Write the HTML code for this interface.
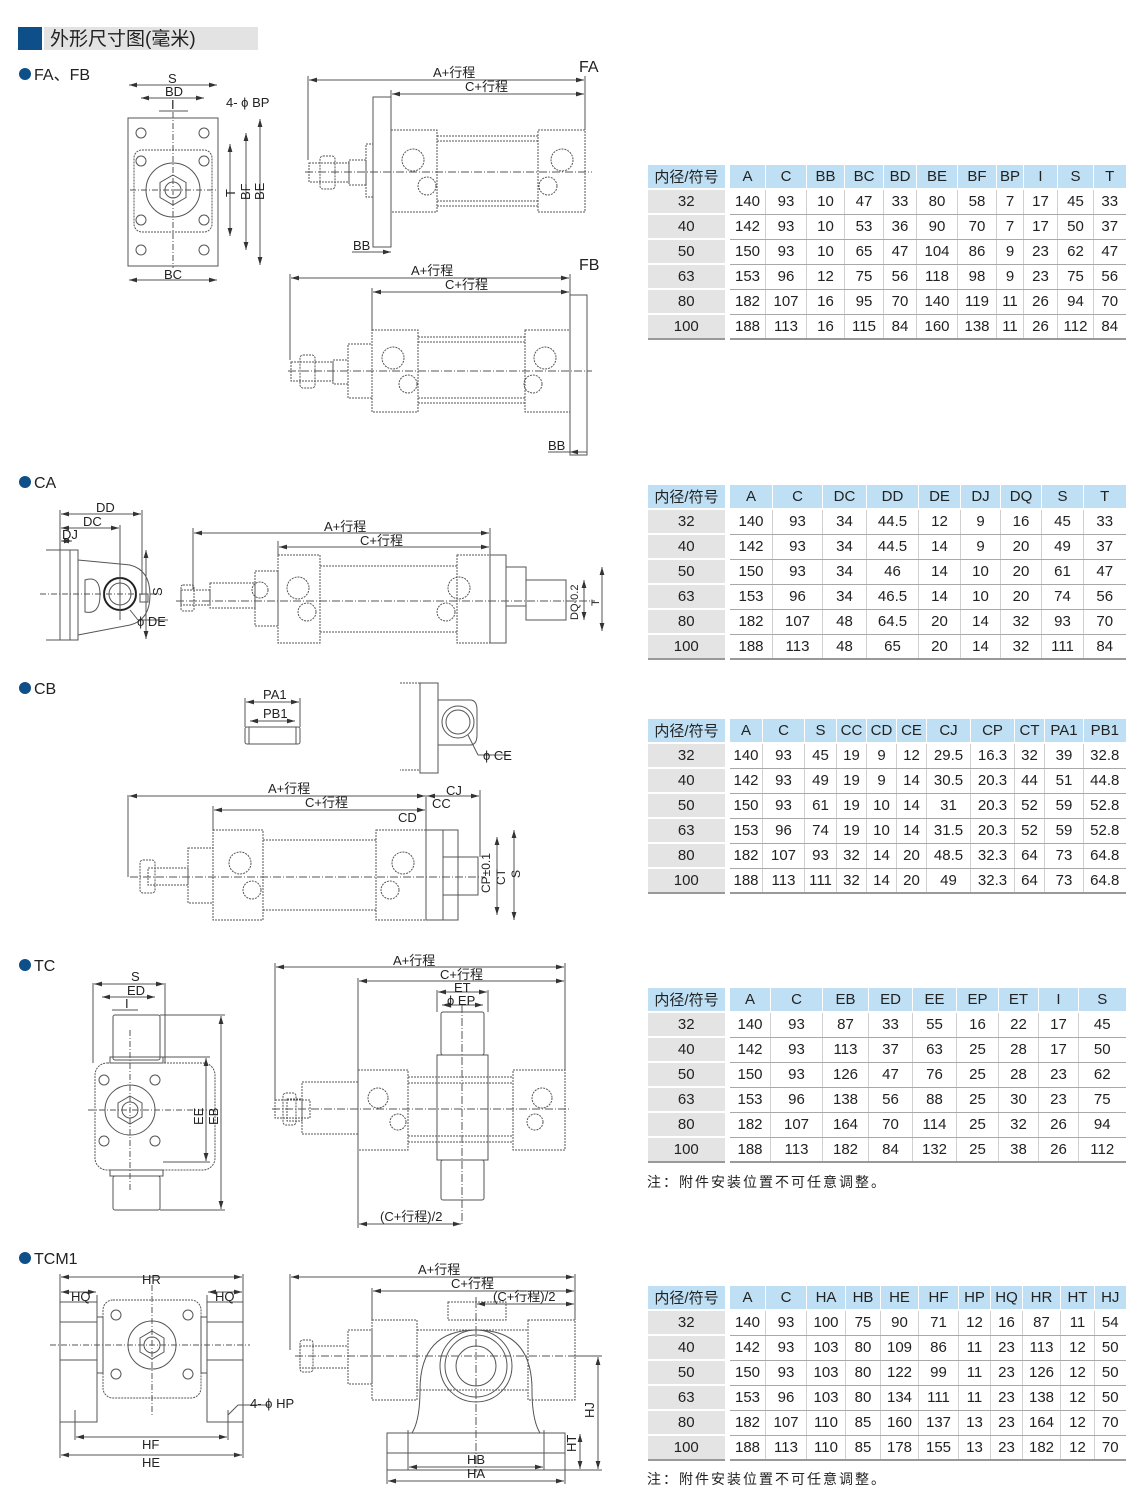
<!DOCTYPE html>
<html><head><meta charset="utf-8">
<style>
body{margin:0;background:#fff;width:1140px;height:1504px;position:relative;overflow:hidden;font-family:"Liberation Sans","Noto Sans CJK SC",sans-serif;color:#222}
.t{position:absolute;border-collapse:collapse;font-size:15px;table-layout:fixed}
.t td{height:23px;padding:0;text-align:center;border-bottom:1px solid #a8a8a8;border-left:1px solid #d0d0d0}
.t tr:first-child td{background:#bfe0f4;border-bottom:2px solid #fff;border-left:1px solid #fff}
.t td:first-child{background:#e4e4e4;border-left:none;border-right:5px solid #fff;border-bottom:2px solid #fff}
.t tr:first-child td:first-child{background:#bfe0f4}
.t tr:last-child td{border-bottom:2px solid #999}
.t tr:last-child td:first-child{border-bottom:2px solid #999}
.note{position:absolute;left:647px;font-size:14px;letter-spacing:2px}
svg{position:absolute;left:0;top:0}
</style></head><body>
<svg width="1140" height="1504" font-family="Liberation Sans, Noto Sans CJK SC, sans-serif" font-size="13" fill="none" stroke="#555" stroke-width="1">
<defs>
<marker id="a" viewBox="0 0 10 6" refX="10" refY="3" markerWidth="8" markerHeight="5" orient="auto-start-reverse"><path d="M0,0L10,3L0,6z" fill="#333" stroke="none"/></marker>
</defs>
<rect x="18" y="27" width="24" height="23" fill="#0e4f8a" stroke="none"/>
<rect x="44" y="27" width="214" height="23" fill="#e3e3e3" stroke="none"/>
<text x="50" y="45" font-size="19" fill="#222" stroke="none">外形尺寸图(毫米)</text>
<g fill="#0e4f8a" stroke="none"><circle cx="25" cy="74" r="6"/><circle cx="25" cy="482" r="6"/><circle cx="25" cy="688" r="6"/><circle cx="25" cy="965" r="6"/><circle cx="25" cy="1258" r="6"/></g>
<g font-size="16" fill="#222" stroke="none"><text x="34" y="80">FA、FB</text><text x="34" y="488">CA</text><text x="34" y="694">CB</text><text x="34" y="971">TC</text><text x="34" y="1264">TCM1</text><text x="579" y="72">FA</text><text x="579" y="270">FB</text></g>

<!-- FA front -->
<rect x="128" y="118" width="90" height="148"/>
<rect x="134" y="150" width="78" height="82" rx="8" stroke-dasharray="2 1"/>
<g><circle cx="141" cy="133" r="5"/><circle cx="204" cy="133" r="5"/><circle cx="141" cy="161" r="5"/><circle cx="204" cy="161" r="5"/><circle cx="141" cy="220" r="5"/><circle cx="204" cy="220" r="5"/><circle cx="141" cy="250" r="5"/><circle cx="204" cy="250" r="5"/></g>
<circle cx="173" cy="190" r="27"/><path d="M173,175l13,7.5v15l-13,7.5l-13,-7.5v-15z"/><circle cx="173" cy="190" r="8"/>
<line x1="173" y1="112" x2="173" y2="268" stroke-dasharray="6 2 1 2"/><line x1="130" y1="190" x2="216" y2="190" stroke-dasharray="6 2 1 2"/>
<g marker-start="url(#a)" marker-end="url(#a)"><line x1="129" y1="85" x2="217" y2="85"/><line x1="141" y1="98" x2="204" y2="98"/><line x1="129" y1="280" x2="217" y2="280"/><line x1="230" y1="144" x2="230" y2="236"/><line x1="246" y1="133" x2="246" y2="250"/><line x1="260" y1="119" x2="260" y2="265"/></g>
<line x1="159" y1="111" x2="188" y2="111"/>
<g fill="#222" stroke="none"><text x="168" y="83">S</text><text x="165" y="96">BD</text><text x="171" y="109">I</text><text x="164" y="279">BC</text><text x="226" y="107">4- ϕ BP</text><text transform="translate(235,197) rotate(-90)">T</text><text transform="translate(250,200) rotate(-90)">BF</text><text transform="translate(264,200) rotate(-90)">BE</text></g>

<!-- FA side -->
<g stroke-dasharray="2 1">
<rect x="373" y="97" width="18" height="150" stroke-dasharray="none"/>
<rect x="391" y="130" width="46" height="82"/><rect x="538" y="130" width="47" height="82"/>
<line x1="437" y1="136" x2="538" y2="136"/><line x1="437" y1="141" x2="538" y2="141"/><line x1="437" y1="201" x2="538" y2="201"/><line x1="437" y1="206" x2="538" y2="206"/>
<rect x="366" y="144" width="7" height="53"/><rect x="349" y="160" width="17" height="25"/><rect x="309" y="163" width="40" height="19"/><rect x="320" y="156" width="15" height="33" rx="3"/>
<circle cx="413" cy="160" r="11"/><circle cx="427" cy="186" r="9"/><circle cx="562" cy="160" r="11"/><circle cx="548" cy="186" r="9"/>
</g>
<line x1="305" y1="172" x2="592" y2="172" stroke-dasharray="8 2 1 2"/>
<line x1="308" y1="76" x2="308" y2="160"/><line x1="585" y1="76" x2="585" y2="130"/><line x1="391" y1="90" x2="391" y2="97"/>
<g marker-start="url(#a)" marker-end="url(#a)"><line x1="309" y1="80" x2="584" y2="80"/><line x1="392" y1="94" x2="584" y2="94"/></g>
<line x1="352" y1="252" x2="391" y2="252" marker-end="url(#a)"/>
<g fill="#222" stroke="none"><text x="433" y="77">A+行程</text><text x="465" y="91">C+行程</text><text x="353" y="250">BB</text></g>

<!-- FB side -->
<g stroke-dasharray="2 1">
<rect x="570" y="295" width="17" height="160" stroke-dasharray="none"/>
<rect x="372" y="330" width="46" height="82"/><rect x="525" y="330" width="45" height="82"/>
<line x1="418" y1="337" x2="525" y2="337"/><line x1="418" y1="342" x2="525" y2="342"/><line x1="418" y1="398" x2="525" y2="398"/><line x1="418" y1="403" x2="525" y2="403"/>
<rect x="348" y="344" width="24" height="54"/><rect x="333" y="360" width="15" height="24"/><rect x="291" y="362" width="42" height="19"/><rect x="300" y="355" width="15" height="33" rx="3"/>
<circle cx="393" cy="358" r="11"/><circle cx="408" cy="384" r="9"/><circle cx="545" cy="358" r="11"/><circle cx="533" cy="384" r="9"/>
</g>
<line x1="288" y1="371" x2="592" y2="371" stroke-dasharray="8 2 1 2"/>
<line x1="290" y1="274" x2="290" y2="360"/><line x1="372" y1="288" x2="372" y2="330"/><line x1="570" y1="274" x2="570" y2="295"/>
<g marker-start="url(#a)" marker-end="url(#a)"><line x1="291" y1="278" x2="569" y2="278"/><line x1="373" y1="292" x2="569" y2="292"/></g>
<line x1="548" y1="452" x2="587" y2="452"/><line x1="572" y1="452" x2="570" y2="452" marker-end="url(#a)"/>
<g fill="#222" stroke="none"><text x="411" y="275">A+行程</text><text x="445" y="289">C+行程</text><text x="548" y="450">BB</text></g>

<!-- CA front -->
<path d="M46,550H70V640H46" /><rect x="60" y="550" width="18" height="90"/>
<path d="M78,560L130,565Q150,570 150,595Q150,620 130,625L78,635"/>
<path d="M85,580Q100,575 100,595Q100,615 85,612z"/>
<circle cx="120" cy="594" r="16" stroke="#222" stroke-width="2"/><circle cx="120" cy="594" r="11"/>
<line x1="40" y1="594" x2="160" y2="594" stroke-dasharray="6 2 1 2"/><line x1="120" y1="525" x2="120" y2="620"/>
<line x1="60" y1="510" x2="60" y2="550"/><line x1="142" y1="510" x2="142" y2="595"/>
<g marker-start="url(#a)" marker-end="url(#a)"><line x1="61" y1="514" x2="141" y2="514"/><line x1="61" y1="528" x2="119" y2="528"/><line x1="61" y1="541" x2="72" y2="541"/><line x1="146" y1="550" x2="146" y2="639"/></g>
<line x1="130" y1="610" x2="138" y2="620"/><line x1="138" y1="620" x2="168" y2="620"/>
<rect x="140" y="594" width="8" height="8"/>
<g fill="#222" stroke="none"><text x="96" y="512">DD</text><text x="83" y="526">DC</text><text x="62" y="539">DJ</text><text x="137" y="626">ϕ DE</text><text transform="translate(162,596) rotate(-90)">S</text></g>

<!-- CA side -->
<g stroke-dasharray="2 1">
<rect x="278" y="555" width="42" height="88"/><rect x="457" y="555" width="33" height="88"/>
<line x1="320" y1="566" x2="457" y2="566"/><line x1="320" y1="632" x2="457" y2="632"/>
<rect x="255" y="571" width="23" height="55"/><rect x="210" y="583" width="45" height="25"/><rect x="181" y="590" width="29" height="15"/><rect x="181" y="585" width="13" height="26" rx="2"/>
<circle cx="260" cy="590" r="8"/><circle cx="298" cy="588" r="11"/><circle cx="307" cy="612" r="9"/><circle cx="459" cy="588" r="11"/><circle cx="446" cy="612" r="9"/>
</g>
<rect x="490" y="555" width="16" height="88"/><path d="M506,567H526V606H506"/><rect x="526" y="580" width="40" height="40"/>
<line x1="176" y1="601" x2="595" y2="601" stroke-dasharray="8 2 1 2"/>
<line x1="193" y1="528" x2="193" y2="590"/><line x1="490" y1="528" x2="490" y2="555"/><line x1="278" y1="541" x2="278" y2="555"/>
<g marker-start="url(#a)" marker-end="url(#a)"><line x1="194" y1="533" x2="489" y2="533"/><line x1="279" y1="547" x2="489" y2="547"/><line x1="602" y1="567" x2="602" y2="631"/><line x1="584" y1="580" x2="584" y2="620"/></g>
<g fill="#222" stroke="none"><text x="324" y="531">A+行程</text><text x="360" y="545">C+行程</text><text transform="translate(599,606) rotate(-90)" font-size="11">T</text><text transform="translate(578,620) rotate(-90)" font-size="11">DQ-0.2</text></g>

<!-- CB -->
<rect x="245" y="727" width="55" height="17" rx="2"/><line x1="249" y1="727" x2="249" y2="744"/><line x1="296" y1="727" x2="296" y2="744"/>
<line x1="245" y1="698" x2="245" y2="727"/><line x1="300" y1="698" x2="300" y2="727"/>
<g marker-start="url(#a)" marker-end="url(#a)"><line x1="246" y1="702" x2="299" y2="702"/><line x1="250" y1="721" x2="295" y2="721"/></g>
<path d="M400,683H420V770H400" stroke-dasharray="2 1"/><rect x="420" y="683" width="18" height="90"/><path d="M438,700H470Q477,700 477,710V735Q477,745 470,745H438"/>
<circle cx="458" cy="722" r="16"/><circle cx="458" cy="722" r="12"/>
<line x1="468" y1="735" x2="478" y2="755"/><line x1="478" y1="755" x2="510" y2="755"/>
<g fill="#222" stroke="none"><text x="263" y="699">PA1</text><text x="263" y="718">PB1</text><text x="483" y="760">ϕ CE</text></g>
<g stroke-dasharray="2 1">
<rect x="213" y="830" width="50" height="90"/><rect x="376" y="830" width="50" height="90"/>
<line x1="263" y1="840" x2="376" y2="840"/><line x1="263" y1="910" x2="376" y2="910"/>
<rect x="188" y="848" width="25" height="55"/><rect x="148" y="868" width="40" height="17"/><rect x="140" y="860" width="15" height="33" rx="3"/>
<circle cx="240" cy="863" r="11"/><circle cx="252" cy="890" r="9"/><circle cx="403" cy="863" r="11"/><circle cx="390" cy="890" r="9"/>
</g>
<rect x="426" y="830" width="17" height="90"/><path d="M443,830H458V920H443"/><rect x="443" y="857" width="35" height="38"/>
<line x1="130" y1="877" x2="485" y2="877" stroke-dasharray="8 2 1 2"/>
<line x1="128" y1="795" x2="128" y2="877"/><line x1="426" y1="795" x2="426" y2="830"/><line x1="213" y1="806" x2="213" y2="830"/><line x1="480" y1="790" x2="480" y2="857"/>
<g marker-start="url(#a)" marker-end="url(#a)"><line x1="129" y1="796" x2="425" y2="796"/><line x1="214" y1="810" x2="425" y2="810"/><line x1="427" y1="796" x2="479" y2="796"/><line x1="514" y1="830" x2="514" y2="920"/><line x1="497" y1="837" x2="497" y2="915"/></g>
<g fill="#222" stroke="none"><text x="268" y="793">A+行程</text><text x="305" y="807">C+行程</text><text x="446" y="795">CJ</text><text x="432" y="808">CC</text><text x="398" y="822">CD</text><text transform="translate(490,893) rotate(-90)" font-size="12">CP±0.1</text><text transform="translate(505,885) rotate(-90)" font-size="12">CT</text><text transform="translate(520,878) rotate(-90)" font-size="12">S</text></g>

<!-- TC front -->
<rect x="113" y="1015" width="47" height="45" rx="2"/><rect x="110" y="1057" width="53" height="6"/>
<rect x="95" y="1063" width="120" height="107" rx="12" stroke-dasharray="2 1"/>
<g><circle cx="104" cy="1080" r="5"/><circle cx="155" cy="1080" r="5"/><circle cx="104" cy="1141" r="5"/><circle cx="155" cy="1141" r="5"/></g>
<circle cx="130" cy="1110" r="25"/><path d="M130,1096l12,7v14l-12,7l-12,-7v-14z"/><circle cx="130" cy="1110" r="8"/>
<rect x="110" y="1170" width="53" height="6"/><rect x="113" y="1176" width="47" height="34" rx="2"/>
<line x1="88" y1="1110" x2="220" y2="1110" stroke-dasharray="6 2 1 2"/><line x1="130" y1="1030" x2="130" y2="1190" stroke-dasharray="6 2 1 2"/>
<line x1="93" y1="983" x2="93" y2="1063"/><line x1="165" y1="983" x2="165" y2="1063"/><line x1="160" y1="1015" x2="225" y2="1015"/><line x1="160" y1="1210" x2="225" y2="1210"/><line x1="163" y1="1057" x2="210" y2="1057"/><line x1="163" y1="1162" x2="210" y2="1162"/>
<g marker-start="url(#a)" marker-end="url(#a)"><line x1="94" y1="984" x2="164" y2="984"/><line x1="102" y1="997" x2="155" y2="997"/><line x1="206" y1="1058" x2="206" y2="1161"/><line x1="221" y1="1016" x2="221" y2="1209"/></g>
<line x1="112" y1="1010" x2="138" y2="1010"/>
<g fill="#222" stroke="none"><text x="131" y="981">S</text><text x="127" y="995">ED</text><text x="125" y="1008">I</text><text transform="translate(203,1125) rotate(-90)">EE</text><text transform="translate(218,1125) rotate(-90)">EB</text></g>

<!-- TC side -->
<g stroke-dasharray="2 1">
<rect x="358" y="1070" width="50" height="80"/><rect x="513" y="1070" width="52" height="80"/>
<line x1="408" y1="1077" x2="513" y2="1077"/><line x1="408" y1="1083" x2="513" y2="1083"/><line x1="408" y1="1136" x2="513" y2="1136"/><line x1="408" y1="1142" x2="513" y2="1142"/>
<rect x="302" y="1082" width="56" height="52"/><rect x="287" y="1099" width="15" height="22"/><rect x="275" y="1100" width="35" height="18"/><rect x="283" y="1093" width="13" height="32" rx="3"/>
<circle cx="378" cy="1098" r="10"/><circle cx="398" cy="1122" r="8"/><circle cx="542" cy="1098" r="10"/><circle cx="535" cy="1122" r="8"/>
</g>
<rect x="437" y="1055" width="51" height="105"/><rect x="441" y="1012" width="43" height="43" rx="2"/><rect x="441" y="1160" width="43" height="40" rx="2"/>
<line x1="272" y1="1109" x2="570" y2="1109" stroke-dasharray="8 2 1 2"/><line x1="462" y1="1005" x2="462" y2="1225" stroke-dasharray="8 2 1 2"/>
<line x1="275" y1="963" x2="275" y2="1100"/><line x1="358" y1="978" x2="358" y2="1228"/><line x1="565" y1="963" x2="565" y2="1070"/><line x1="437" y1="990" x2="437" y2="1012"/><line x1="488" y1="990" x2="488" y2="1012"/>
<g marker-start="url(#a)" marker-end="url(#a)"><line x1="276" y1="967" x2="564" y2="967"/><line x1="359" y1="981" x2="564" y2="981"/><line x1="438" y1="992" x2="487" y2="992"/><line x1="442" y1="1005" x2="483" y2="1005"/><line x1="359" y1="1224" x2="461" y2="1224"/></g>
<g fill="#222" stroke="none"><text x="393" y="965">A+行程</text><text x="440" y="979">C+行程</text><text x="454" y="992">ET</text><text x="447" y="1005">ϕ EP</text><text x="380" y="1221">(C+行程)/2</text></g>

<!-- TCM1 front -->
<rect x="60" y="1302" width="37" height="120"/><rect x="207" y="1302" width="36" height="120"/>
<line x1="60" y1="1322" x2="97" y2="1322"/><line x1="60" y1="1360" x2="97" y2="1360"/><line x1="207" y1="1322" x2="243" y2="1322"/><line x1="207" y1="1360" x2="243" y2="1360"/>
<rect x="97" y="1317" width="6" height="56"/><rect x="201" y="1317" width="6" height="56"/>
<rect x="103" y="1300" width="98" height="98" rx="10" stroke-dasharray="2 1"/>
<g><circle cx="116" cy="1315" r="5"/><circle cx="188" cy="1315" r="5"/><circle cx="116" cy="1374" r="5"/><circle cx="188" cy="1374" r="5"/></g>
<circle cx="152" cy="1345" r="24"/><path d="M152,1331l12,7v14l-12,7l-12,-7v-14z"/><circle cx="152" cy="1345" r="8"/>
<line x1="50" y1="1345" x2="250" y2="1345" stroke-dasharray="6 2 1 2"/><line x1="152" y1="1285" x2="152" y2="1415" stroke-dasharray="6 2 1 2"/>
<line x1="60" y1="1274" x2="60" y2="1302"/><line x1="243" y1="1274" x2="243" y2="1302"/><line x1="97" y1="1295" x2="97" y2="1302"/><line x1="207" y1="1295" x2="207" y2="1302"/>
<line x1="75" y1="1410" x2="75" y2="1440"/><line x1="228" y1="1410" x2="228" y2="1440"/>
<g marker-start="url(#a)" marker-end="url(#a)"><line x1="61" y1="1277" x2="242" y2="1277"/><line x1="61" y1="1292" x2="96" y2="1292"/><line x1="208" y1="1292" x2="242" y2="1292"/><line x1="76" y1="1437" x2="227" y2="1437"/><line x1="61" y1="1455" x2="242" y2="1455"/></g>
<line x1="60" y1="1422" x2="60" y2="1458"/><line x1="243" y1="1422" x2="243" y2="1458"/>
<line x1="228" y1="1415" x2="238" y2="1405"/><line x1="238" y1="1405" x2="270" y2="1405"/>
<g fill="#222" stroke="none"><text x="142" y="1284">HR</text><text x="71" y="1301">HQ</text><text x="215" y="1301">HQ</text><text x="142" y="1449">HF</text><text x="142" y="1467">HE</text><text x="250" y="1408">4- ϕ HP</text></g>

<!-- TCM1 side -->
<g stroke-dasharray="2 1">
<rect x="372" y="1320" width="45" height="80"/><rect x="528" y="1320" width="47" height="80"/>
<rect x="448" y="1302" width="58" height="18"/>
<line x1="417" y1="1330" x2="528" y2="1330"/><line x1="417" y1="1390" x2="528" y2="1390"/>
<rect x="348" y="1330" width="24" height="54"/><rect x="300" y="1346" width="48" height="22"/><rect x="300" y="1340" width="13" height="32" rx="3"/>
</g>
<path d="M387,1433H565V1470H387z"/><line x1="387" y1="1453" x2="565" y2="1453"/>
<path d="M412,1433Q420,1420 420,1390Q420,1330 476,1330Q532,1330 532,1390Q532,1420 540,1433"/>
<circle cx="476" cy="1366" r="36"/><circle cx="476" cy="1366" r="31"/><circle cx="476" cy="1366" r="20"/>
<line x1="295" y1="1356" x2="580" y2="1356" stroke-dasharray="8 2 1 2"/><line x1="476" y1="1300" x2="476" y2="1472" stroke-dasharray="8 2 1 2"/>
<line x1="290" y1="1274" x2="290" y2="1350"/><line x1="372" y1="1288" x2="372" y2="1320"/><line x1="575" y1="1274" x2="575" y2="1320"/><line x1="476" y1="1297" x2="476" y2="1302"/>
<line x1="408" y1="1430" x2="408" y2="1470"/><line x1="544" y1="1430" x2="544" y2="1470"/><line x1="387" y1="1470" x2="387" y2="1484"/><line x1="565" y1="1470" x2="565" y2="1484"/>
<line x1="575" y1="1356" x2="602" y2="1356"/><line x1="565" y1="1470" x2="602" y2="1470"/>
<g marker-start="url(#a)" marker-end="url(#a)"><line x1="291" y1="1277" x2="574" y2="1277"/><line x1="373" y1="1291" x2="574" y2="1291"/><line x1="477" y1="1304" x2="574" y2="1304"/><line x1="409" y1="1467" x2="543" y2="1467"/><line x1="388" y1="1481" x2="564" y2="1481"/><line x1="598" y1="1357" x2="598" y2="1469"/><line x1="580" y1="1434" x2="580" y2="1469"/></g>
<g fill="#222" stroke="none"><text x="418" y="1274">A+行程</text><text x="451" y="1288">C+行程</text><text x="493" y="1301">(C+行程)/2</text><text x="467" y="1464">HB</text><text x="467" y="1478">HA</text><text transform="translate(594,1418) rotate(-90)">HJ</text><text transform="translate(576,1452) rotate(-90)">HT</text></g>
</svg>

<table class="t" style="left:647px;top:165px;width:478px">
<colgroup><col style="width:80px"><col style="width:38px"><col style="width:41px"><col style="width:38px"><col style="width:39px"><col style="width:33px"><col style="width:41px"><col style="width:39px"><col style="width:27px"><col style="width:34px"><col style="width:36px"><col style="width:32px"></colgroup>
<tr><td>内径/符号</td><td>A</td><td>C</td><td>BB</td><td>BC</td><td>BD</td><td>BE</td><td>BF</td><td>BP</td><td>I</td><td>S</td><td>T</td></tr>
<tr><td>32</td><td>140</td><td>93</td><td>10</td><td>47</td><td>33</td><td>80</td><td>58</td><td>7</td><td>17</td><td>45</td><td>33</td></tr>
<tr><td>40</td><td>142</td><td>93</td><td>10</td><td>53</td><td>36</td><td>90</td><td>70</td><td>7</td><td>17</td><td>50</td><td>37</td></tr>
<tr><td>50</td><td>150</td><td>93</td><td>10</td><td>65</td><td>47</td><td>104</td><td>86</td><td>9</td><td>23</td><td>62</td><td>47</td></tr>
<tr><td>63</td><td>153</td><td>96</td><td>12</td><td>75</td><td>56</td><td>118</td><td>98</td><td>9</td><td>23</td><td>75</td><td>56</td></tr>
<tr><td>80</td><td>182</td><td>107</td><td>16</td><td>95</td><td>70</td><td>140</td><td>119</td><td>11</td><td>26</td><td>94</td><td>70</td></tr>
<tr><td>100</td><td>188</td><td>113</td><td>16</td><td>115</td><td>84</td><td>160</td><td>138</td><td>11</td><td>26</td><td>112</td><td>84</td></tr>
</table>

<table class="t" style="left:647px;top:485px;width:478px">
<colgroup><col style="width:80px"><col style="width:45px"><col style="width:50px"><col style="width:44px"><col style="width:52px"><col style="width:42px"><col style="width:40px"><col style="width:41px"><col style="width:42px"><col style="width:42px"></colgroup>
<tr><td>内径/符号</td><td>A</td><td>C</td><td>DC</td><td>DD</td><td>DE</td><td>DJ</td><td>DQ</td><td>S</td><td>T</td></tr>
<tr><td>32</td><td>140</td><td>93</td><td>34</td><td>44.5</td><td>12</td><td>9</td><td>16</td><td>45</td><td>33</td></tr>
<tr><td>40</td><td>142</td><td>93</td><td>34</td><td>44.5</td><td>14</td><td>9</td><td>20</td><td>49</td><td>37</td></tr>
<tr><td>50</td><td>150</td><td>93</td><td>34</td><td>46</td><td>14</td><td>10</td><td>20</td><td>61</td><td>47</td></tr>
<tr><td>63</td><td>153</td><td>96</td><td>34</td><td>46.5</td><td>14</td><td>10</td><td>20</td><td>74</td><td>56</td></tr>
<tr><td>80</td><td>182</td><td>107</td><td>48</td><td>64.5</td><td>20</td><td>14</td><td>32</td><td>93</td><td>70</td></tr>
<tr><td>100</td><td>188</td><td>113</td><td>48</td><td>65</td><td>20</td><td>14</td><td>32</td><td>111</td><td>84</td></tr>
</table>

<table class="t" style="left:647px;top:719px;width:478px">
<colgroup><col style="width:80px"><col style="width:35px"><col style="width:42px"><col style="width:32px"><col style="width:30px"><col style="width:30px"><col style="width:30px"><col style="width:44px"><col style="width:44px"><col style="width:30px"><col style="width:39px"><col style="width:42px"></colgroup>
<tr><td>内径/符号</td><td>A</td><td>C</td><td>S</td><td>CC</td><td>CD</td><td>CE</td><td>CJ</td><td>CP</td><td>CT</td><td>PA1</td><td>PB1</td></tr>
<tr><td>32</td><td>140</td><td>93</td><td>45</td><td>19</td><td>9</td><td>12</td><td>29.5</td><td>16.3</td><td>32</td><td>39</td><td>32.8</td></tr>
<tr><td>40</td><td>142</td><td>93</td><td>49</td><td>19</td><td>9</td><td>14</td><td>30.5</td><td>20.3</td><td>44</td><td>51</td><td>44.8</td></tr>
<tr><td>50</td><td>150</td><td>93</td><td>61</td><td>19</td><td>10</td><td>14</td><td>31</td><td>20.3</td><td>52</td><td>59</td><td>52.8</td></tr>
<tr><td>63</td><td>153</td><td>96</td><td>74</td><td>19</td><td>10</td><td>14</td><td>31.5</td><td>20.3</td><td>52</td><td>59</td><td>52.8</td></tr>
<tr><td>80</td><td>182</td><td>107</td><td>93</td><td>32</td><td>14</td><td>20</td><td>48.5</td><td>32.3</td><td>64</td><td>73</td><td>64.8</td></tr>
<tr><td>100</td><td>188</td><td>113</td><td>111</td><td>32</td><td>14</td><td>20</td><td>49</td><td>32.3</td><td>64</td><td>73</td><td>64.8</td></tr>
</table>

<table class="t" style="left:647px;top:988px;width:478px">
<colgroup><col style="width:80px"><col style="width:43px"><col style="width:52px"><col style="width:46px"><col style="width:44px"><col style="width:44px"><col style="width:42px"><col style="width:40px"><col style="width:40px"><col style="width:47px"></colgroup>
<tr><td>内径/符号</td><td>A</td><td>C</td><td>EB</td><td>ED</td><td>EE</td><td>EP</td><td>ET</td><td>I</td><td>S</td></tr>
<tr><td>32</td><td>140</td><td>93</td><td>87</td><td>33</td><td>55</td><td>16</td><td>22</td><td>17</td><td>45</td></tr>
<tr><td>40</td><td>142</td><td>93</td><td>113</td><td>37</td><td>63</td><td>25</td><td>28</td><td>17</td><td>50</td></tr>
<tr><td>50</td><td>150</td><td>93</td><td>126</td><td>47</td><td>76</td><td>25</td><td>28</td><td>23</td><td>62</td></tr>
<tr><td>63</td><td>153</td><td>96</td><td>138</td><td>56</td><td>88</td><td>25</td><td>30</td><td>23</td><td>75</td></tr>
<tr><td>80</td><td>182</td><td>107</td><td>164</td><td>70</td><td>114</td><td>25</td><td>32</td><td>26</td><td>94</td></tr>
<tr><td>100</td><td>188</td><td>113</td><td>182</td><td>84</td><td>132</td><td>25</td><td>38</td><td>26</td><td>112</td></tr>
</table>
<div class="note" style="top:1172px">注：附件安装位置不可任意调整。</div>

<table class="t" style="left:647px;top:1286px;width:478px">
<colgroup><col style="width:80px"><col style="width:38px"><col style="width:41px"><col style="width:39px"><col style="width:35px"><col style="width:38px"><col style="width:40px"><col style="width:32px"><col style="width:32px"><col style="width:38px"><col style="width:34px"><col style="width:31px"></colgroup>
<tr><td>内径/符号</td><td>A</td><td>C</td><td>HA</td><td>HB</td><td>HE</td><td>HF</td><td>HP</td><td>HQ</td><td>HR</td><td>HT</td><td>HJ</td></tr>
<tr><td>32</td><td>140</td><td>93</td><td>100</td><td>75</td><td>90</td><td>71</td><td>12</td><td>16</td><td>87</td><td>11</td><td>54</td></tr>
<tr><td>40</td><td>142</td><td>93</td><td>103</td><td>80</td><td>109</td><td>86</td><td>11</td><td>23</td><td>113</td><td>12</td><td>50</td></tr>
<tr><td>50</td><td>150</td><td>93</td><td>103</td><td>80</td><td>122</td><td>99</td><td>11</td><td>23</td><td>126</td><td>12</td><td>50</td></tr>
<tr><td>63</td><td>153</td><td>96</td><td>103</td><td>80</td><td>134</td><td>111</td><td>11</td><td>23</td><td>138</td><td>12</td><td>50</td></tr>
<tr><td>80</td><td>182</td><td>107</td><td>110</td><td>85</td><td>160</td><td>137</td><td>13</td><td>23</td><td>164</td><td>12</td><td>70</td></tr>
<tr><td>100</td><td>188</td><td>113</td><td>110</td><td>85</td><td>178</td><td>155</td><td>13</td><td>23</td><td>182</td><td>12</td><td>70</td></tr>
</table>
<div class="note" style="top:1469px">注：附件安装位置不可任意调整。</div>
</body></html>
